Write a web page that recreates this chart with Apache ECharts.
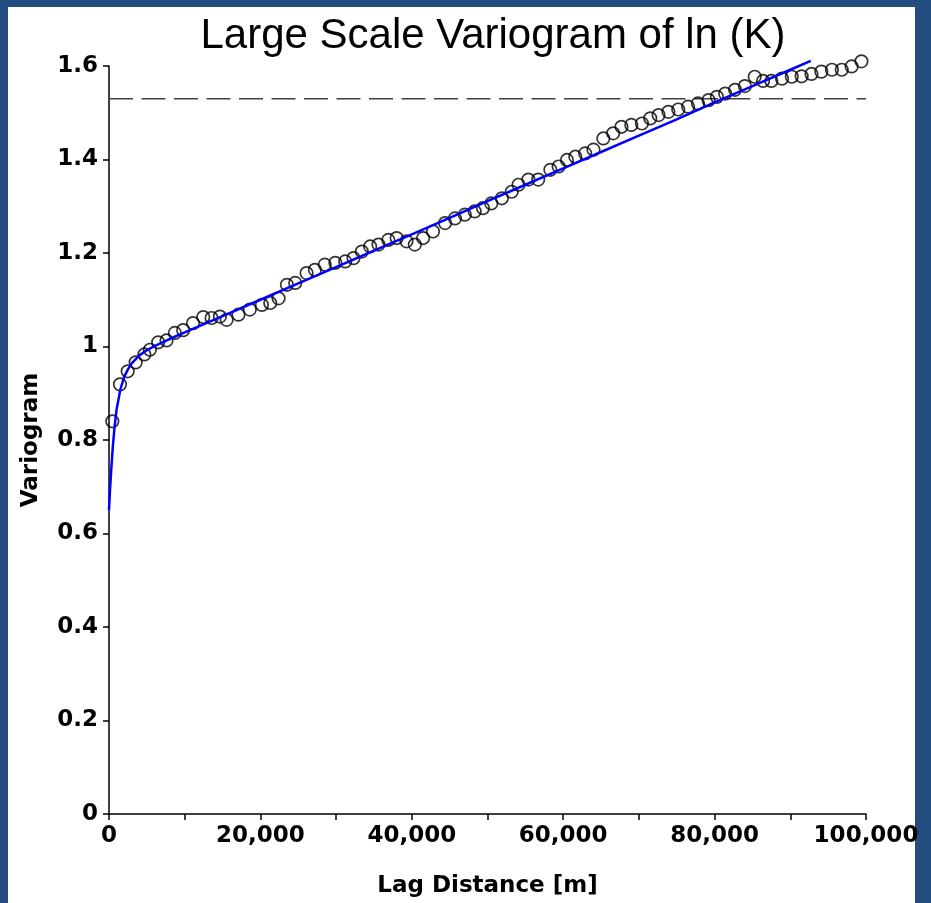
<!DOCTYPE html>
<html><head><meta charset="utf-8">
<script src="https://cdn.jsdelivr.net/npm/echarts@6/dist/echarts.min.js"></script>
<style>html,body{margin:0;padding:0;background:#224B7F}#c{width:931px;height:903px}</style>
</head><body><div id="c"></div>
<script>
// Experimental variogram points (lag distance in m, variogram value)
const lagDistance = [440,1450,2470,3520,4670,5400,6500,7600,8700,9800,11100,12450,13550,14650,15540,17100,18600,20200,21300,22400,23500,24600,26100,27200,28500,29900,31200,32300,33400,34500,35600,36900,38000,39300,40400,41500,42800,44400,45700,47000,48300,49400,50500,51900,53200,54100,55400,56700,58300,59400,60500,61600,62900,64000,65300,66600,67700,69000,70400,71500,72600,73900,75200,76500,77800,79200,80300,81400,82700,84000,85300,86400,87500,88900,90200,91500,92800,94100,95500,96800,98100,99400];
const variogramValue = [0.840,0.919,0.947,0.966,0.983,0.993,1.009,1.013,1.029,1.035,1.050,1.063,1.061,1.064,1.057,1.068,1.079,1.089,1.093,1.103,1.132,1.136,1.157,1.164,1.175,1.179,1.182,1.189,1.203,1.214,1.218,1.228,1.232,1.225,1.218,1.232,1.246,1.264,1.274,1.282,1.289,1.296,1.306,1.317,1.331,1.346,1.357,1.357,1.378,1.385,1.399,1.406,1.413,1.421,1.445,1.456,1.470,1.474,1.477,1.488,1.495,1.502,1.507,1.513,1.520,1.527,1.534,1.541,1.549,1.557,1.577,1.568,1.568,1.573,1.577,1.578,1.583,1.588,1.592,1.592,1.599,1.610];
// Fitted model curve
const modelLag = [0,125,250,500,750,1000,1500,2000,2500,3000,4000,5000,6000,8000,10000,15000,20000,25000,30000,35000,40000,45000,50000,55000,60000,65000,70000,75000,80000,85000,90000,92700];
const modelValue = [0.650,0.690,0.725,0.785,0.830,0.865,0.908,0.935,0.951,0.964,0.981,0.992,1.001,1.016,1.030,1.065,1.100,1.135,1.170,1.205,1.240,1.275,1.311,1.346,1.381,1.416,1.451,1.486,1.522,1.557,1.592,1.611];
const sillValue = 1.53;
const sillRange = [0, 100000];
const titleText = 'Large Scale Variogram of ln (K)';
const xName = 'Lag Distance [m]';
const yName = 'Variogram';

const chart = echarts.init(document.getElementById('c'), null, {renderer: 'canvas'});
const tickFont = {fontFamily: 'DejaVu Sans', fontWeight: 'bold', fontSize: 23, color: '#000'};
const axisLineStyle = {color: '#000', width: 1.5};

chart.setOption({
  animation: false,
  backgroundColor: '#224B7F',
  graphic: [{type: 'rect', z: -10, shape: {x: 8, y: 7, width: 907, height: 896}, style: {fill: '#fff'}}],
  title: {
    text: titleText, left: 488, top: 10, textAlign: 'center',
    textStyle: {fontFamily: 'Liberation Sans', fontWeight: 'normal', fontSize: 42, color: '#000'}
  },
  grid: {left: 109, right: 65, top: 66, bottom: 88},
  xAxis: {
    type: 'value', min: 0, max: 100000, interval: 10000,
    axisLine: {lineStyle: axisLineStyle},
    axisTick: {show: true, length: 6, lineStyle: axisLineStyle},
    splitLine: {show: false},
    axisLabel: Object.assign({margin: 11, formatter: v => (v % 20000 === 0 ? v.toLocaleString('en-US') : '')}, tickFont),
    name: xName, nameLocation: 'middle', nameGap: 61,
    nameTextStyle: tickFont
  },
  yAxis: {
    type: 'value', min: 0, max: 1.6, interval: 0.2,
    axisLine: {show: true, lineStyle: axisLineStyle},
    axisTick: {show: true, length: 6, lineStyle: axisLineStyle},
    splitLine: {show: false},
    axisLabel: Object.assign({margin: 11, formatter: v => String(+v.toFixed(1))}, tickFont),
    name: yName, nameLocation: 'middle', nameGap: 66, nameRotate: 90,
    nameTextStyle: tickFont
  },
  series: [
    {
      type: 'line', data: sillRange.map(x => [x, sillValue]), showSymbol: false, silent: true,
      lineStyle: {color: '#404040', width: 1.5, type: [24, 8.5]}, z: 1
    },
    {
      type: 'scatter', data: lagDistance.map((x, i) => [x, variogramValue[i]]), clip: false,
      symbol: 'circle', symbolSize: 12.5,
      itemStyle: {color: 'rgba(0,0,0,0)', borderColor: '#000', borderWidth: 1.7}, z: 2
    },
    {
      type: 'line', data: modelLag.map((x, i) => [x, modelValue[i]]), showSymbol: false, silent: true, clip: false,
      lineStyle: {color: '#0000ff', width: 2.5}, z: 3
    }
  ]
});
</script></body></html>
